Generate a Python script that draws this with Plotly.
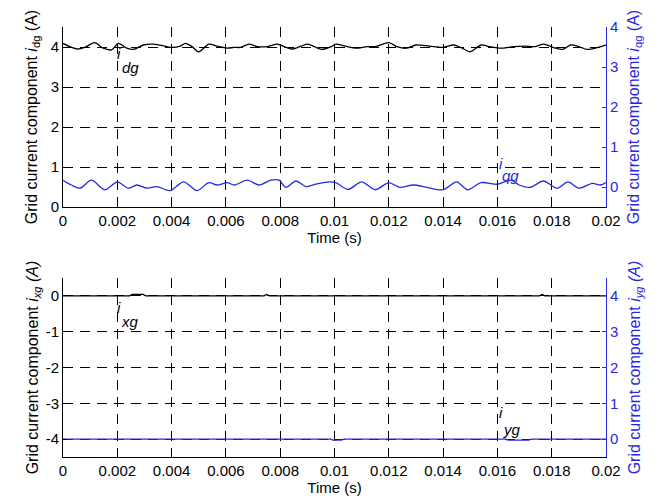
import plotly.graph_objects as go

# ---- data ----
# top panel, i_dg (left axis, A)
t_dg = [0.0, 0.25, 0.55, 0.86, 1.17, 1.48, 1.79, 2.04, 2.35, 2.6, 2.96, 3.33, 3.7, 3.95,
        4.32, 4.51, 4.75, 5.0, 5.37, 5.68, 6.05, 6.3, 6.54, 6.85, 7.16, 7.53, 7.9, 8.15,
        8.46, 8.77, 9.01, 9.26, 9.51, 9.88, 10.05, 10.4, 10.8, 11.2, 11.5, 12.0, 12.3,
        12.65, 13.0, 13.5, 14.0, 14.4, 14.7, 15.0, 15.4, 15.7, 16.1, 16.6, 17.0, 17.4,
        17.7, 18.1, 18.4, 18.7, 19.0, 19.3, 19.7, 20.0]
i_dg = [4.09, 4.01, 3.95, 4.01, 4.11, 3.97, 3.93, 4.09, 3.97, 3.94, 4.05, 4.07, 4.03, 3.99,
        4.02, 4.09, 4.01, 3.88, 4.07, 4.02, 3.97, 3.99, 3.99, 4.07, 4.01, 4.01, 4.07, 4.01,
        3.95, 4.02, 4.07, 4.01, 3.94, 4.01, 4.07, 4.02, 3.97, 4.01, 4.01, 4.11, 4.01,
        3.97, 4.05, 4.02, 3.99, 4.05, 3.97, 3.88, 4.05, 4.01, 3.97, 4.01, 4.02, 4.01,
        4.07, 3.98, 3.94, 4.05, 4.01, 3.94, 3.99, 4.05]

# top panel, i_qg (right axis, A)
t_qg = [0.0, 0.31, 0.62, 1.05, 1.54, 2.0, 2.41, 2.72, 3.09, 3.46, 3.95, 4.44, 4.94, 5.37,
        5.68, 6.05, 6.3, 6.79, 7.22, 7.65, 7.96, 8.21, 8.58, 8.95, 9.32, 9.8, 10.05, 10.5,
        11.0, 11.5, 12.0, 12.4, 12.9, 13.4, 14.0, 14.5, 14.9, 15.4, 16.0, 16.5, 16.8,
        17.2, 17.7, 18.2, 18.6, 19.0, 19.5, 19.8, 20.0]
i_qg = [0.17, 0.05, -0.03, 0.17, -0.07, 0.13, -0.03, 0.05, -0.03, 0.01, -0.09, 0.13, -0.09,
        0.11, 0.05, 0.11, 0.05, 0.17, 0.05, 0.17, 0.17, -0.01, 0.15, 0.01, 0.07, 0.13,
        0.11, -0.06, 0.13, -0.07, 0.11, -0.01, 0.05, -0.01, -0.07, 0.13, -0.07, 0.11, 0.07,
        0.17, 0.05, -0.01, 0.15, -0.03, 0.13, -0.03, 0.09, 0.05, 0.11]

# bottom panel, i_xg (left axis, A)
t_xg = [0.0, 2.45, 2.55, 2.95, 3.05, 7.4, 7.5, 7.6, 17.55, 17.65, 17.75, 20.0]
i_xg = [0.0, 0.0, 0.04, 0.04, 0.0, 0.0, 0.04, 0.0, 0.0, 0.04, 0.0, 0.0]

# bottom panel, i_yg (right axis, A)
t_yg = [0.0, 9.85, 9.95, 10.25, 10.35, 16.3, 16.4, 17.15, 17.25, 20.0]
i_yg = [0.0, 0.0, -0.03, -0.03, 0.0, 0.0, -0.03, -0.03, 0.0, 0.0]

x_ticks = [0, 0.002, 0.004, 0.006, 0.008, 0.01, 0.012, 0.014, 0.016, 0.018, 0.02]
x_ticklabels = ["0", "0.002", "0.004", "0.006", "0.008", "0.01", "0.012", "0.014",
                "0.016", "0.018", "0.02"]
y_pos_ticks = [0, 1, 2, 3, 4]
y_pos_labels = ["0", "1", "2", "3", "4"]
y_neg_ticks = [-4, -3, -2, -1, 0]
y_neg_labels = ["-4", "-3", "-2", "-1", "0"]

BLUE = "rgb(40,40,225)"
FONT = "Liberation Sans, Arial, Helvetica, sans-serif"
FS = 15
TFS = 16

fig = go.Figure()
fig.add_trace(go.Scatter(x=[t / 1000 for t in t_qg], y=i_qg, mode="lines",
                         line=dict(color=BLUE, width=1.3, shape="spline", smoothing=0.8),
                         xaxis="x", yaxis="y2"))
fig.add_trace(go.Scatter(x=[t / 1000 for t in t_dg], y=i_dg, mode="lines",
                         line=dict(color="black", width=1.3, shape="spline", smoothing=0.8),
                         xaxis="x", yaxis="y"))
fig.add_trace(go.Scatter(x=[t / 1000 for t in t_yg], y=i_yg, mode="lines",
                         line=dict(color=BLUE, width=1.3),
                         xaxis="x2", yaxis="y4"))
fig.add_trace(go.Scatter(x=[t / 1000 for t in t_xg], y=i_xg, mode="lines",
                         line=dict(color="black", width=1.3),
                         xaxis="x2", yaxis="y3"))

common_x = dict(range=[0, 0.02], tickvals=x_ticks, ticktext=x_ticklabels,
                showline=True, linecolor="black", linewidth=1, ticks="inside", ticklen=4,
                tickcolor="black", showgrid=True, gridcolor="black", gridwidth=1,
                griddash="10px,7px", zeroline=False, automargin=False,
                tickfont=dict(size=FS, color="black", family=FONT),
                title=dict(text="Time (s)", font=dict(size=FS, color="black", family=FONT),
                           standoff=2))
common_yl = dict(showline=True, linecolor="black", linewidth=1, ticks="inside", ticklen=4,
                 tickcolor="black", showgrid=True, gridcolor="black", gridwidth=1,
                 griddash="10px,7px", zeroline=False, automargin=False,
                 tickfont=dict(size=FS, color="black", family=FONT))
common_yr = dict(showline=True, linecolor=BLUE, linewidth=1, ticks="inside", ticklen=4,
                 tickcolor=BLUE, showgrid=False, zeroline=False, side="right",
                 automargin=False,
                 tickfont=dict(size=FS, color=BLUE, family=FONT))

top_dom = [0.5814, 1.0]
bot_dom = [0.0, 0.4163]

# the page body has an 8px margin, so the figure is 8px smaller and offset by 8px
fig.update_layout(
    width=653, height=492,
    margin=dict(l=55, r=55, t=19, b=43),
    paper_bgcolor="white", plot_bgcolor="white",
    showlegend=False,
    font=dict(family=FONT, size=FS, color="black"),
    xaxis=dict(anchor="y", domain=[0, 1], **common_x),
    xaxis2=dict(anchor="y3", domain=[0, 1], **common_x),
    yaxis=dict(domain=top_dom, anchor="x", range=[0, 4.5], tickvals=y_pos_ticks,
               ticktext=y_pos_labels,
               title=dict(text="Grid current component <i>i</i><sub>dg</sub> (A)",
                          font=dict(size=TFS, color="black", family=FONT), standoff=9),
               **common_yl),
    yaxis2=dict(overlaying="y", anchor="x", range=[-0.5, 4], tickvals=y_pos_ticks,
                ticktext=y_pos_labels,
                title=dict(text="Grid current component <i>i</i><sub>qg</sub> (A)",
                           font=dict(size=TFS, color=BLUE, family=FONT), standoff=10),
                **common_yr),
    yaxis3=dict(domain=bot_dom, anchor="x2", range=[-4.5, 0.5],
                tickvals=y_neg_ticks, ticktext=y_neg_labels,
                title=dict(text="Grid current component <i>i<sub>xg</sub> (A)</i>",
                           font=dict(size=TFS, color="black", family=FONT), standoff=3),
                **common_yl),
    yaxis4=dict(overlaying="y3", anchor="x2", range=[-0.5, 4.5], tickvals=y_pos_ticks,
                ticktext=y_pos_labels,
                title=dict(text="Grid current component <i>i<sub>yg</sub> (A)</i>",
                           font=dict(size=TFS, color=BLUE, family=FONT), standoff=11),
                **common_yr),
)

def label(x, y, text, color, xref, yref):
    fig.add_annotation(x=x, y=y, text=text, xref=xref, yref=yref, showarrow=False,
                       font=dict(size=FS, color=color, family=FONT))

label(0.00208, 3.85, "<i>i</i>", "black", "x", "y")
label(0.00247, 3.5, "<i>dg</i>", "black", "x", "y")
label(0.01615, 1.1, "<i>i</i>", BLUE, "x", "y")
label(0.0165, 0.8, "<i>qg</i>", BLUE, "x", "y")
label(0.00208, -0.33, "<i>i</i>", "black", "x2", "y3")
label(0.00247, -0.72, "<i>xg</i>", "black", "x2", "y3")
label(0.01612, -3.25, "<i>i</i>", "black", "x2", "y3")
label(0.01654, -3.72, "<i>yg</i>", "black", "x2", "y3")

fig.write_html("out.html")
